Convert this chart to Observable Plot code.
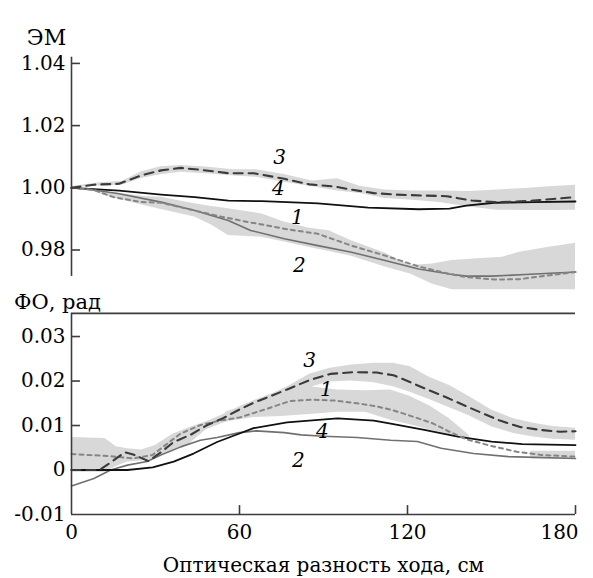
<!DOCTYPE html>
<html><head><meta charset="utf-8">
<script src="https://cdn.jsdelivr.net/npm/d3@7"></script>
<script src="https://cdn.jsdelivr.net/npm/@observablehq/plot@0.6"></script>
<style>
body{margin:0;background:#fff;}
#c{position:relative;width:593px;height:578px;}
#c svg{position:absolute;left:0;background:transparent;overflow:visible;}
</style></head><body><div id="c"></div>
<script>
// ---- ticks ----
const X_TICKS = [0, 60, 120, 180];
const X_LABELS = ["0", "60", "120", "180"];
const EM_TICKS = [0.98, 1.00, 1.02, 1.04];
const EM_LABELS = ["0.98", "1.00", "1.02", "1.04"];
const FO_TICKS = [-0.01, 0, 0.01, 0.02, 0.03];
const FO_LABELS = ["-0.01", "0", "0.01", "0.02", "0.03"];

// ---- top panel (ЭМ) ----
const em3X = [0, 8, 17, 25, 32, 39, 46, 56, 65, 76, 85, 94, 100, 108, 116, 126, 134, 143, 151, 158, 165, 172, 180];
const em3Y = [1.000, 1.001, 1.0013, 1.004, 1.0056, 1.0064, 1.0058, 1.0047, 1.0047, 1.0029, 1.0011, 1.0004, 0.9994, 0.9983, 0.9978, 0.9975, 0.9973, 0.9959, 0.9954, 0.9955, 0.9959, 0.9964, 0.9970];
const em4X = [0, 17, 32, 44, 56, 68, 88, 106, 124, 135, 141, 151, 165, 180];
const em4Y = [1.000, 0.9991, 0.9978, 0.9970, 0.9959, 0.9957, 0.9950, 0.9936, 0.9931, 0.9933, 0.9943, 0.9952, 0.9954, 0.9956];
const em1X = [0, 8, 15, 25, 32, 44, 53, 63, 68, 76, 88, 100, 112, 124, 135, 141, 151, 160, 170, 180];
const em1Y = [1.000, 0.9993, 0.9970, 0.9954, 0.9952, 0.9927, 0.9908, 0.9890, 0.9882, 0.9868, 0.9852, 0.9814, 0.9782, 0.9747, 0.9723, 0.9713, 0.9705, 0.9706, 0.9718, 0.9729];
const em2X = [0, 8, 17, 32, 44, 56, 64, 76, 88, 100, 112, 124, 135, 141, 150, 162, 180];
const em2Y = [1.000, 0.9993, 0.9981, 0.9954, 0.9927, 0.9895, 0.9863, 0.9836, 0.9814, 0.9793, 0.9766, 0.9739, 0.9723, 0.9716, 0.9716, 0.9721, 0.9729];
const emBandTX = [0, 10, 18, 25, 32, 39, 48, 58, 66, 76, 86, 95, 103, 112, 122, 132, 142, 152, 162, 172, 180];
const emBandTHi = [1.0004, 1.0016, 1.0020, 1.0052, 1.0068, 1.0072, 1.0067, 1.0058, 1.0058, 1.0043, 1.0022, 1.0029, 1.0005, 0.9993, 0.9990, 0.9990, 0.9988, 0.9993, 0.9998, 1.0004, 1.0008];
const emBandTLo = [1.0000, 1.0006, 1.0008, 1.0030, 1.0042, 1.0050, 1.0045, 1.0038, 1.0034, 1.0018, 1.0003, 0.9990, 0.9982, 0.9966, 0.9960, 0.9952, 0.9938, 0.9928, 0.9927, 0.9927, 0.9928];
const emBandBX = [5, 14, 26, 32, 44, 50, 56, 68, 76, 85, 92, 100, 112, 121, 129, 136, 145, 154, 160, 170, 180];
const emBandBHi = [0.9999, 0.9986, 0.9972, 0.9970, 0.9949, 0.9940, 0.9933, 0.9916, 0.9890, 0.9870, 0.9862, 0.9830, 0.9790, 0.9750, 0.9755, 0.9766, 0.9772, 0.9777, 0.9793, 0.9808, 0.9822];
const emBandBLo = [0.9997, 0.9970, 0.9943, 0.9930, 0.9906, 0.9880, 0.9847, 0.9841, 0.9826, 0.9808, 0.9795, 0.9780, 0.9745, 0.9723, 0.9690, 0.9672, 0.9672, 0.9672, 0.9672, 0.9672, 0.9672];
const emCurveNames = ["3", "4", "1", "2"];
const emCurveNameX = [74.3, 73.9, 80.7, 81.4];
const emCurveNameY = [1.0097, 0.9998, 0.9905, 0.9749];

// ---- bottom panel (ФО) ----
const fo3X = [0, 10, 14, 19, 22, 27.5, 32, 36.5, 42.5, 48.5, 54, 60, 65, 77, 85, 92.5, 101, 109, 115, 120, 127, 134, 140, 147, 153, 160, 167.5, 174.5, 180];
const fo3Y = [0, 0, 0.0017, 0.0040, 0.0035, 0.0020, 0.0040, 0.0063, 0.0079, 0.0101, 0.0116, 0.0136, 0.0151, 0.0181, 0.0202, 0.0216, 0.0220, 0.0219, 0.0213, 0.0200, 0.0181, 0.0163, 0.0146, 0.0127, 0.0111, 0.0097, 0.0090, 0.0086, 0.0087];
const fo1X = [0, 14, 22, 29, 35, 39, 46, 53, 60, 70, 78, 86, 94, 102, 109, 115, 120, 129, 135, 141, 150, 159, 167.5, 180];
const fo1Y = [0.0036, 0.0031, 0.0026, 0.0034, 0.0063, 0.0082, 0.0101, 0.0111, 0.0118, 0.0138, 0.0155, 0.0158, 0.0156, 0.0150, 0.0143, 0.0134, 0.0124, 0.0105, 0.0086, 0.0069, 0.0054, 0.0041, 0.0034, 0.0030];
const fo4X = [0, 20, 29, 36.5, 43.6, 52, 60, 65, 77, 95, 108, 114, 126, 138, 150, 161, 180];
const fo4Y = [0, 0, 0.0006, 0.0019, 0.0037, 0.0063, 0.0082, 0.0094, 0.0107, 0.0116, 0.0111, 0.0104, 0.0090, 0.0075, 0.0064, 0.0058, 0.0056];
const fo2X = [0, 8, 14, 20, 27, 32, 39, 46, 52, 60, 66, 76, 82, 90, 102, 114, 123.5, 132, 143.6, 156, 180];
const fo2Y = [-0.0036, -0.0019, 0, 0.0011, 0.0019, 0.0034, 0.0052, 0.0067, 0.0073, 0.0084, 0.0088, 0.0084, 0.0079, 0.0076, 0.0073, 0.0067, 0.0064, 0.0049, 0.0037, 0.0030, 0.0026];
const foBandCX = [0, 12, 16, 20, 25, 30, 36, 42, 48, 54, 60, 66, 72, 78, 85, 92, 100, 108, 115, 121, 128, 135, 142, 150, 158, 165, 172, 180];
const foBandCHi = [0.0073, 0.0071, 0.0052, 0.0048, 0.0045, 0.0055, 0.0080, 0.0095, 0.0108, 0.0124, 0.0142, 0.0158, 0.0172, 0.0190, 0.0215, 0.0228, 0.0236, 0.0240, 0.0240, 0.0232, 0.0208, 0.0190, 0.0165, 0.0135, 0.0115, 0.0105, 0.0098, 0.0094];
const foBandCLo = [-0.0005, -0.0005, 0.0008, 0.0018, 0.0020, 0.0025, 0.0040, 0.0058, 0.0090, 0.0105, 0.0116, 0.0130, 0.0148, 0.0165, 0.0185, 0.0198, 0.0200, 0.0196, 0.0187, 0.0175, 0.0158, 0.0140, 0.0122, 0.0097, 0.0082, 0.0074, 0.0069, 0.0067];
const foBandDX = [55, 65, 75, 85, 95, 105, 114, 121, 128, 135, 142];
const foBandDHi = [0.0130, 0.0150, 0.0170, 0.0187, 0.0180, 0.0178, 0.0180, 0.0165, 0.0144, 0.0115, 0.0078];
const foBandDLo = [0.0108, 0.0118, 0.0120, 0.0125, 0.0130, 0.0130, 0.0112, 0.0102, 0.0090, 0.0080, 0.0070];
const foBandEX = [164, 180];
const foBandEHi = [0.0042, 0.0042];
const foBandELo = [0.0025, 0.0025];
const foCurveNames = ["3", "1", "4", "2"];
const foCurveNameX = [85, 91, 89.6, 81];
const foCurveNameY = [0.0246, 0.0181, 0.0087, 0.0021];

// ---- helpers ----
const pts = (xs, ys) => xs.map((x, i) => ({x, y: ys[i]}));
const band = (xs, hi, lo) => xs.map((x, i) => ({x, hi: hi[i], lo: lo[i]}));
const names = (n, xs, ys) => n.map((t, i) => ({t, x: xs[i], y: ys[i]}));
const fmt = (ticks, labels) => d => labels[ticks.findIndex(t => Math.abs(t - d) < 1e-9)];

const BAND = "#d8d8d8", AXIS = "#3c3c3c";
const S3 = {stroke: "#3a3a3a", strokeWidth: 2.1, strokeDasharray: "9,6"};
const S1 = {stroke: "#858585", strokeWidth: 2, strokeDasharray: "4,4"};
const S4 = {stroke: "#111", strokeWidth: 1.8};
const S2 = {stroke: "#707070", strokeWidth: 1.6};
const FONT = "DejaVu Serif";
const FS = 20;
const style = {background: "transparent", color: "#000", overflow: "visible", fontFamily: FONT};

const topChart = Plot.plot({
  width: 593, height: 295, marginLeft: 71, marginRight: 18, marginTop: 56.7, marginBottom: 5.7,
  x: {domain: [0, 180], axis: null, label: null},
  y: {domain: [0.9672, 1.042], label: null},
  style,
  marks: [
    Plot.areaY(band(emBandTX, emBandTHi, emBandTLo), {x: "x", y1: "lo", y2: "hi", fill: BAND}),
    Plot.areaY(band(emBandBX, emBandBHi, emBandBLo), {x: "x", y1: "lo", y2: "hi", fill: BAND}),
    Plot.line(pts(em4X, em4Y), {x: "x", y: "y", ...S4}),
    Plot.line(pts(em2X, em2Y), {x: "x", y: "y", ...S2}),
    Plot.line(pts(em1X, em1Y), {x: "x", y: "y", ...S1}),
    Plot.line(pts(em3X, em3Y), {x: "x", y: "y", ...S3}),
    Plot.ruleX([0], {y1: 0.9715, y2: 1.042, stroke: AXIS, strokeWidth: 1.6}),
    Plot.ruleY(EM_TICKS, {x1: 0, x2: 3.2, stroke: AXIS, strokeWidth: 1.6}),
    Plot.axisY({ticks: EM_TICKS, tickFormat: fmt(EM_TICKS, EM_LABELS), tickSize: 0, tickPadding: 6, fontSize: FS, fontFamily: FONT, label: null}),
    Plot.text(names(emCurveNames, emCurveNameX, emCurveNameY), {x: "x", y: "y", text: "t", fontStyle: "italic", fontSize: 20, fontFamily: FONT}),
    Plot.text(["ЭМ"], {text: d => d, frameAnchor: "top-left", textAnchor: "middle", dx: -25, dy: -28, fontSize: 22, fontFamily: FONT})
  ]
});

const bottomChart = Plot.plot({
  width: 593, height: 303, marginLeft: 71, marginRight: 18, marginTop: 37.9, marginBottom: 64,
  x: {domain: [0, 180], label: null},
  y: {domain: [-0.01, 0.0352], label: null},
  style,
  marks: [
    Plot.areaY(band(foBandCX, foBandCHi, foBandCLo), {x: "x", y1: "lo", y2: "hi", fill: BAND}),
    Plot.areaY(band(foBandDX, foBandDHi, foBandDLo), {x: "x", y1: "lo", y2: "hi", fill: BAND}),
    Plot.areaY(band(foBandEX, foBandEHi, foBandELo), {x: "x", y1: "lo", y2: "hi", fill: BAND}),
    Plot.line(pts(fo2X, fo2Y), {x: "x", y: "y", ...S2}),
    Plot.line(pts(fo4X, fo4Y), {x: "x", y: "y", ...S4}),
    Plot.line(pts(fo1X, fo1Y), {x: "x", y: "y", ...S1}),
    Plot.line(pts(fo3X, fo3Y), {x: "x", y: "y", ...S3}),
    Plot.ruleY([0.0352, -0.01], {stroke: AXIS, strokeWidth: 1.6}),
    Plot.ruleX([0], {stroke: AXIS, strokeWidth: 1.6}),
    Plot.ruleX(X_TICKS.slice(1), {y1: -0.01, y2: -0.008, stroke: AXIS, strokeWidth: 1.6}),
    Plot.ruleY(FO_TICKS.slice(1), {x1: 0, x2: 3.2, stroke: AXIS, strokeWidth: 1.6}),
    Plot.axisY({ticks: FO_TICKS, tickFormat: fmt(FO_TICKS, FO_LABELS), tickSize: 0, tickPadding: 6, fontSize: FS, fontFamily: FONT, label: null}),
    Plot.axisX({ticks: X_TICKS.slice(0, 3), tickFormat: fmt(X_TICKS, X_LABELS), tickSize: 0, tickPadding: 10, fontSize: FS, fontFamily: FONT, label: null}),
    Plot.axisX({ticks: X_TICKS.slice(3), tickFormat: fmt(X_TICKS, X_LABELS), tickSize: 0, tickPadding: 10, dx: -16, fontSize: FS, fontFamily: FONT, label: null}),
    Plot.text(names(foCurveNames, foCurveNameX, foCurveNameY), {x: "x", y: "y", text: "t", fontStyle: "italic", fontSize: 20, fontFamily: FONT}),
    Plot.text(["ФО, рад"], {text: d => d, frameAnchor: "top-left", textAnchor: "middle", dx: -14, dy: -19, fontSize: 21, fontFamily: FONT}),
    Plot.text(["Оптическая разность хода, см"], {text: d => d, frameAnchor: "bottom", lineAnchor: "bottom", dy: 57, fontSize: FS, fontFamily: FONT})
  ]
});

const c = document.getElementById("c");
topChart.style.top = "0px";
bottomChart.style.top = "275px";
c.appendChild(topChart);
c.appendChild(bottomChart);
</script></body></html>
